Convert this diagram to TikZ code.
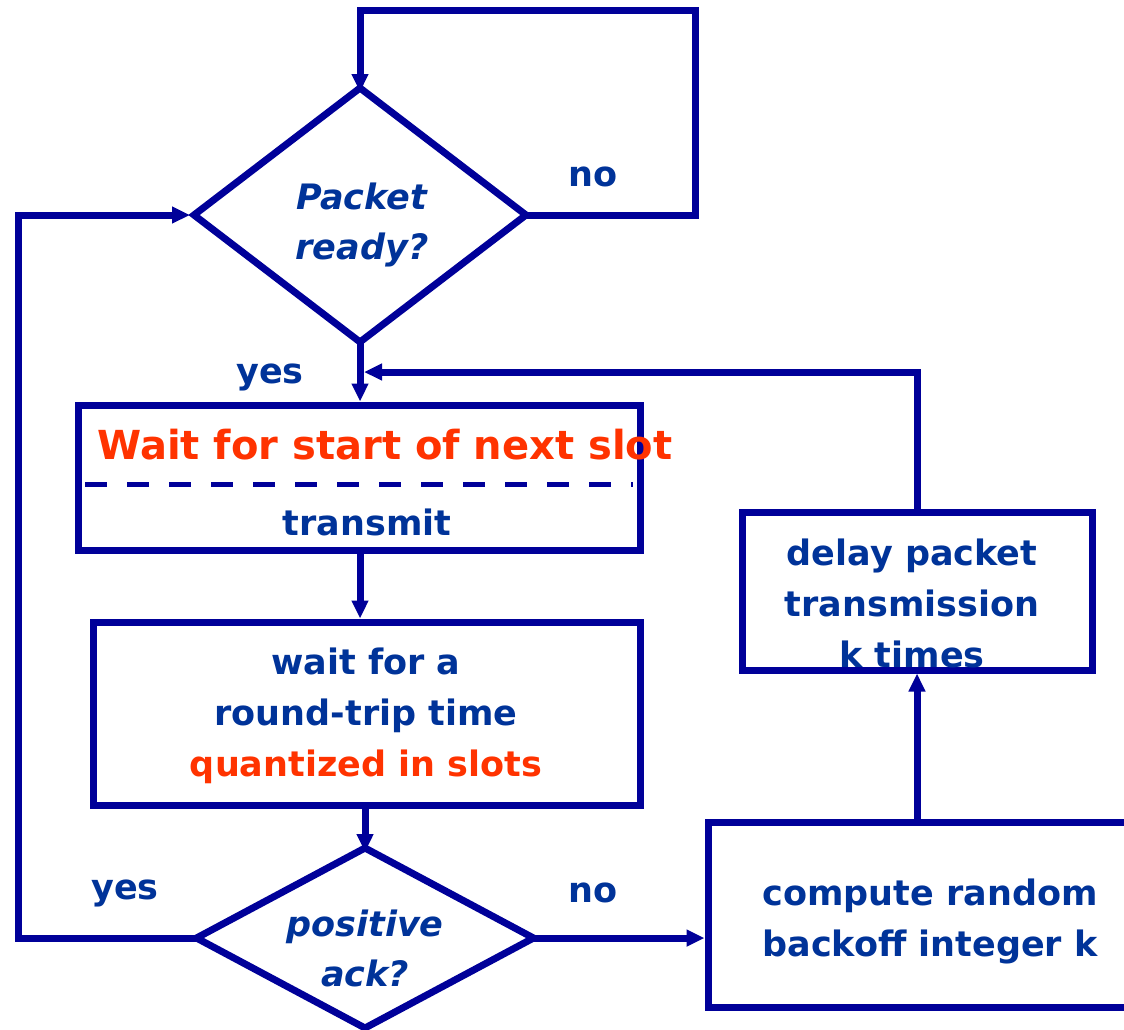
\documentclass[tikz,border=0pt]{standalone}
\usepackage{fontspec}
\setmainfont{DejaVu Sans}
\newfontface\boldobl{DejaVu Sans Bold Oblique}
\usetikzlibrary{shapes.geometric,arrows.meta}
\definecolor{lineblue}{RGB}{0,0,153}
\definecolor{textblue}{RGB}{0,51,153}
\definecolor{hotred}{RGB}{255,51,0}
\tikzset{
  flow/.style={draw=lineblue, line width=7pt},
  arr/.style={flow, -{Triangle[length=18pt,width=16pt]}},
  box/.style={flow, rectangle, inner sep=0pt, fill=none},
  decision/.style={flow, diamond, inner sep=0pt, outer sep=0pt},
  txt/.style={text=textblue, font=\fontsize{35}{51}\selectfont\bfseries, align=center, inner sep=0pt},
  redtxt/.style={txt, text=hotred},
  itxt/.style={text=textblue, font=\fontsize{35}{50}\selectfont\boldobl, align=center, inner sep=0pt},
}
\begin{document}
\begin{tikzpicture}[x=1pt,y=-1pt]
\useasboundingbox (0,0) rectangle (1124,1029);
\clip (0,0) rectangle (1124,1029);
\fill[white] (0,0) rectangle (1124,1029);

% shapes
\node[decision, minimum width=332pt, minimum height=254pt] (d1) at (360,215) {};
\node[box, minimum width=562pt, minimum height=145pt] (b1) at (359,477.5) {};
\node[box, minimum width=547pt, minimum height=183pt] (b2) at (366.5,713.5) {};
\node[decision, minimum width=337pt, minimum height=180pt] (d2) at (365,938) {};
\node[box, minimum width=432pt, minimum height=185pt] (b3) at (924,914.5) {};
\node[box, minimum width=350pt, minimum height=158pt] (b4) at (917,591) {};

% dashed separator in b1
\coordinate (s1) at (85,484);
\coordinate (s2) at (633,484);
\draw[draw=lineblue, line width=5pt, dash pattern=on 22pt off 20pt] (s1) -- (s2);

% texts
\node[itxt] (d1t) at (362,225) {Packet\\ready?};
\node[itxt] (d2t) at (365,948) {positive\\ack?};
\node[redtxt, font=\fontsize{40}{50}\selectfont\bfseries] (b1a) at (385,445) {Wait for start of next slot};
\node[txt] (b1b) at (367,522) {transmit};
\node[txt] (b2a) at (366,690) {wait for a\\round-trip time};
\node[redtxt] (b2b) at (366,767) {quantized in slots};
\node[txt] (b3t) at (930,921) {compute random\\backoff integer k};
\node[txt] (b4t) at (912,603) {delay packet\\transmission\\k times};

\node[txt] (no1) at (593,177) {no};
\node[txt] (yes1) at (270,377) {yes};
\node[txt] (yes2) at (125,893) {yes};
\node[txt] (no2) at (593,893) {no};

% connectors
\coordinate (tr) at (695,10);
\coordinate (lc) at (18,600);
\coordinate (mj) at (364,372);
\draw[arr] (d1.east) -| (tr) -| ([yshift=-4pt]d1.north);
\draw[arr] (d1.south) -- (d1.south |- b1.north);
\draw[arr] (b1.south -| d1.south) -- (d1.south |- b2.north);
\draw[arr] (b2.south -| d2.north) -- ([yshift=-4pt]d2.north);
\draw[arr] (d2.east) -- (b3.west |- d2.east);
\draw[arr] (b4.south |- b3.north) -- (b4.south);
\draw[arr] (b4.north) |- (mj);
\draw[arr] (d2.west) -| (lc) |- ([xshift=-4pt]d1.west);
\end{tikzpicture}
\end{document}
